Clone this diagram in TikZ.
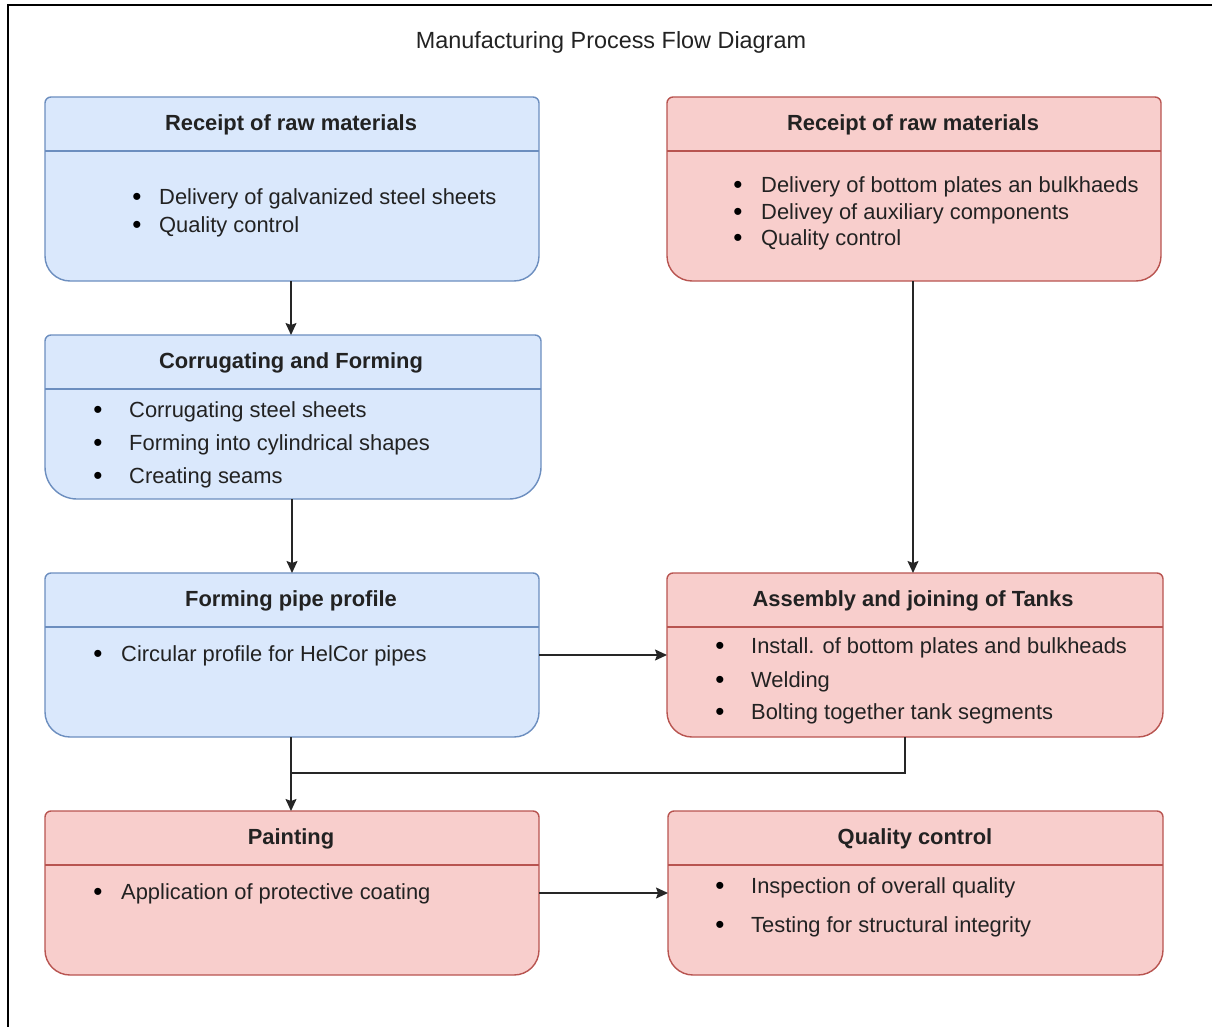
\documentclass[tikz,border=0pt]{standalone}
\usepackage{fontspec}
\setmainfont{Liberation Sans}
\usetikzlibrary{arrows.meta,calc}
\definecolor{bluefill}{HTML}{DAE8FC}
\definecolor{bluestroke}{HTML}{6C8EBF}
\definecolor{redfill}{HTML}{F8CECC}
\definecolor{redstroke}{HTML}{B85450}
\definecolor{txt}{HTML}{222222}
\tikzset{
  boxnode/.style={draw=none,inner sep=0pt,outer sep=0pt},
  bluebox/.style={draw=bluestroke,fill=bluefill,line width=1.4pt},
  redbox/.style={draw=redstroke,fill=redfill,line width=1.4pt},
  headtext/.style={font=\fontsize{21.9}{26}\selectfont\bfseries,text=txt,inner sep=0pt,text height=15.7pt,text depth=0pt,anchor=center},
  itemtext/.style={font=\fontsize{21.9}{26}\selectfont,text=txt,inner sep=0pt,text height=15.7pt,text depth=0pt,anchor=west},
  bulletmark/.style={font=\fontsize{26}{28}\selectfont,text=black,inner sep=0pt,text height=17.2pt,text depth=0pt,anchor=center},
  conn/.style={draw=black!85,line width=1.4pt},
  arr/.style={conn,-{Stealth[length=12pt,width=11pt,inset=2pt]}},
}
\newcommand\procshape[3]{% name, style, bottom radius
  \draw[#2] ([xshift=6pt]#1.north west) -- ([xshift=-6pt]#1.north east)
    arc[start angle=90,end angle=0,radius=6pt] -- ([yshift=#3]#1.south east)
    arc[start angle=0,end angle=-90,radius=#3] -- ([xshift=#3]#1.south west)
    arc[start angle=-90,end angle=-180,radius=#3] -- ([yshift=-6pt]#1.north west)
    arc[start angle=180,end angle=90,radius=6pt] -- cycle;
  \draw[#2] ([yshift=-54pt]#1.north west) -- ([yshift=-54pt]#1.north east);}
\newcommand\listline[5]{% name, bullet x, text x, y, text
  \node[bulletmark] (#1b) at (#2,-#4) {•};
  \node[itemtext] (#1) at (#3,-#4) {#5};}
\begin{document}
\begin{tikzpicture}[x=1pt,y=1pt]
\useasboundingbox (0,0) rectangle (1212,-1027);
% frame
\coordinate (fbl) at (8,-1030);
\coordinate (ftl) at (8,-5);
\coordinate (ftr) at (1215,-5);
\draw[line width=2pt,black] (fbl) -- (ftl) -- (ftr);
% title
\node[font=\fontsize{23.4}{28}\selectfont,text=txt,inner sep=0pt] (title) at (611,-42) {Manufacturing Process Flow Diagram};

% box nodes
\node[boxnode,minimum width=494pt,minimum height=184pt] (a) at (292,-189) {};
\node[boxnode,minimum width=496pt,minimum height=164pt] (b) at (293,-417) {};
\node[boxnode,minimum width=494pt,minimum height=164pt] (c) at (292,-655) {};
\node[boxnode,minimum width=494pt,minimum height=184pt] (d) at (914,-189) {};
\node[boxnode,minimum width=496pt,minimum height=164pt] (e) at (915,-655) {};
\node[boxnode,minimum width=494pt,minimum height=164pt] (f) at (292,-893) {};
\node[boxnode,minimum width=495pt,minimum height=164pt] (g) at (915.5,-893) {};

\procshape{a}{bluebox}{25pt}
\procshape{b}{bluebox}{32pt}
\procshape{c}{bluebox}{25pt}
\procshape{d}{redbox}{25pt}
\procshape{e}{redbox}{25pt}
\procshape{f}{redbox}{25pt}
\procshape{g}{redbox}{25pt}

% box A
\node[headtext] (ah) at (291,-123) {Receipt of raw materials};
\listline{a1}{137}{159}{197}{Delivery of galvanized steel sheets}
\listline{a2}{137}{159}{225}{Quality control}
% box B
\node[headtext] (bh) at (291,-361) {Corrugating and Forming};
\listline{b1}{98}{129}{410}{Corrugating steel sheets}
\listline{b2}{98}{129}{443}{Forming into cylindrical shapes}
\listline{b3}{98}{129}{476}{Creating seams}
% box C
\node[headtext] (ch) at (291,-599) {Forming pipe profile};
\listline{c1}{98}{121}{654}{Circular profile for HelCor pipes}
% box D
\node[headtext] (dh) at (913,-123) {Receipt of raw materials};
\listline{d1}{738}{761}{185}{Delivery of bottom plates an bulkhaeds}
\listline{d2}{738}{761}{212}{Delivey of auxiliary components}
\listline{d3}{738}{761}{238}{Quality control}
% box E
\node[headtext] (eh) at (913,-599) {Assembly and joining of Tanks};
\listline{e1}{720}{751}{646}{Install. of bottom plates and bulkheads}
\listline{e2}{720}{751}{680}{Welding}
\listline{e3}{720}{751}{712}{Bolting together tank segments}
% box F
\node[headtext] (fh) at (291,-837) {Painting};
\listline{f1}{98}{121}{892}{Application of protective coating}
% box G
\node[headtext] (gh) at (915,-837) {Quality control};
\listline{g1}{720}{751}{886}{Inspection of overall quality}
\listline{g2}{720}{751}{925}{Testing for structural integrity}

% connectors
\draw[arr] ([xshift=-1pt]a.south) -- ([xshift=-1pt]a.south |- b.north);
\draw[arr] ([xshift=-1pt]b.south) -- ([xshift=-1pt]b.south |- c.north);
\draw[arr] ([xshift=-1pt]d.south) -- ([xshift=-1pt]d.south |- e.north);
\draw[arr] (c.east) -- (c.east -| e.west);
\draw[arr] ([xshift=-1pt]c.south) -- ([xshift=-1pt]c.south |- f.north);
\coordinate (join) at ($([xshift=-1pt]c.south)+(0,-36)$);
\draw[conn] ([xshift=-10pt]e.south) |- (join);
\draw[arr] (f.east) -- (f.east -| g.west);
\end{tikzpicture}
\end{document}
